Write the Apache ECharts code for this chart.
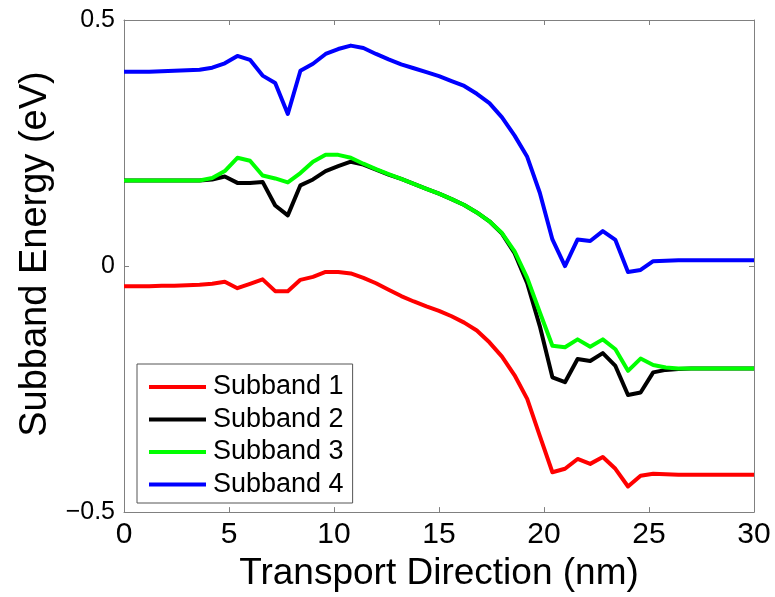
<!DOCTYPE html>
<html>
<head>
<meta charset="utf-8">
<script src="https://cdn.jsdelivr.net/npm/echarts@6/dist/echarts.min.js"></script>
<style>
  html, body { margin: 0; padding: 0; background: #fff; }
  #chart { width: 775px; height: 597px; }
</style>
</head>
<body>
<div id="chart"></div>
<script>
// transport direction positions (nm)
var xPos = [0, 0.6, 1.2, 1.8, 2.4, 3.0, 3.6, 4.2, 4.8, 5.4, 6.0, 6.6, 7.2, 7.8, 8.4, 9.0, 9.6,
  10.2, 10.8, 11.4, 12.0, 12.6, 13.2, 13.8, 14.4, 15.0, 15.6, 16.2, 16.8, 17.4, 18.0, 18.6,
  19.2, 19.8, 20.4, 21.0, 21.6, 22.2, 22.8, 23.4, 24.0, 24.6, 25.2, 25.8, 26.4, 27.0, 27.6,
  28.2, 28.8, 29.4, 30.0]

var subband1 = [-0.041, -0.041, -0.041, -0.040, -0.040, -0.039, -0.038, -0.036, -0.032, -0.045,
  -0.036, -0.027, -0.051, -0.051, -0.028, -0.022, -0.012, -0.012, -0.015, -0.024, -0.035,
  -0.048, -0.061, -0.072, -0.082, -0.091, -0.102, -0.115, -0.131, -0.155, -0.184, -0.222,
  -0.270, -0.345, -0.419, -0.412, -0.392, -0.402, -0.388, -0.412, -0.448, -0.426, -0.422,
  -0.423, -0.424, -0.424, -0.424, -0.424, -0.424, -0.424, -0.424]

var subband2 = [0.174, 0.174, 0.174, 0.174, 0.174, 0.174, 0.174, 0.176, 0.182, 0.169, 0.169,
  0.171, 0.123, 0.103, 0.164, 0.176, 0.193, 0.203, 0.212, 0.206, 0.196, 0.186, 0.177, 0.167,
  0.157, 0.147, 0.136, 0.124, 0.109, 0.091, 0.066, 0.026, -0.035, -0.122, -0.226, -0.236,
  -0.189, -0.193, -0.177, -0.203, -0.262, -0.257, -0.216, -0.211, -0.209, -0.208, -0.208,
  -0.208, -0.208, -0.208, -0.208]

var subband3 = [0.174, 0.174, 0.174, 0.174, 0.174, 0.174, 0.174, 0.179, 0.193, 0.220, 0.214,
  0.184, 0.178, 0.170, 0.189, 0.212, 0.226, 0.226, 0.220, 0.208, 0.197, 0.187, 0.177, 0.167,
  0.157, 0.147, 0.136, 0.124, 0.109, 0.091, 0.067, 0.030, -0.024, -0.094, -0.162, -0.165,
  -0.149, -0.164, -0.149, -0.169, -0.213, -0.188, -0.201, -0.206, -0.208, -0.208, -0.208,
  -0.208, -0.208, -0.208, -0.208]

var subband4 = [0.395, 0.395, 0.395, 0.396, 0.397, 0.398, 0.399, 0.403, 0.412, 0.427, 0.419,
  0.387, 0.372, 0.309, 0.397, 0.411, 0.431, 0.441, 0.448, 0.443, 0.431, 0.420, 0.410, 0.402,
  0.394, 0.386, 0.376, 0.366, 0.350, 0.331, 0.302, 0.265, 0.222, 0.149, 0.054, 0.000, 0.054,
  0.051, 0.071, 0.053, -0.012, -0.008, 0.010, 0.011, 0.012, 0.012, 0.012, 0.012, 0.012,
  0.012, 0.012]

var seriesNames = ['Subband 1', 'Subband 2', 'Subband 3', 'Subband 4']
var seriesColors = ['#ff0000', '#000000', '#00ff00', '#0000ff']
var seriesValues = [subband1, subband2, subband3, subband4]

var font = 'Liberation Sans, Arial, Helvetica, sans-serif'
var axisGrey = '#808080'

function pairs(ys) {
  return xPos.map(function (x, i) { return [x, ys[i]] })
}

var chart = echarts.init(document.getElementById('chart'))

chart.setOption({
  backgroundColor: '#fff',
  animation: false,
  grid: {
    left: 124,
    right: 21,
    top: 20,
    bottom: 84
  },
  legend: {
    orient: 'vertical',
    left: 137,
    top: 364,
    data: seriesNames,
    icon: 'rect',
    itemWidth: 57,
    itemHeight: 4,
    itemGap: 5.5,
    padding: [9.5, 9, 5, 12],
    backgroundColor: '#fff',
    borderColor: '#555',
    borderWidth: 1,
    borderRadius: 0,
    textStyle: {
      color: '#000',
      fontFamily: font,
      fontSize: 27,
      lineHeight: 27,
      padding: [0, 0, 0, 2]
    }
  },
  xAxis: [{
    type: 'value',
    min: 0,
    max: 30,
    interval: 5,
    name: 'Transport Direction (nm)',
    nameLocation: 'middle',
    nameGap: 38,
    nameTextStyle: {
      color: '#000',
      fontFamily: font,
      fontSize: 37
    },
    axisLine: { onZero: false, lineStyle: { color: axisGrey, width: 1 } },
    axisTick: { inside: true, length: 5, lineStyle: { color: axisGrey } },
    axisLabel: {
      color: '#000',
      fontFamily: font,
      fontSize: 30,
      margin: 8
    },
    splitLine: { show: false }
  }, {
    type: 'value',
    position: 'top',
    min: 0,
    max: 30,
    interval: 5,
    axisLine: { onZero: false, lineStyle: { color: axisGrey, width: 1 } },
    axisTick: { inside: true, length: 5, lineStyle: { color: axisGrey } },
    axisLabel: { show: false },
    splitLine: { show: false }
  }],
  yAxis: [{
    type: 'value',
    min: -0.5,
    max: 0.5,
    interval: 0.5,
    name: 'Subband Energy (eV)',
    nameLocation: 'middle',
    nameGap: 68,
    nameTextStyle: {
      color: '#000',
      fontFamily: font,
      fontSize: 38,
      padding: [0, 0, 0, 24]
    },
    axisLine: { show: true, onZero: false, lineStyle: { color: axisGrey, width: 1 } },
    axisTick: { show: true, inside: true, length: 5, lineStyle: { color: axisGrey } },
    axisLabel: {
      color: '#000',
      fontFamily: font,
      fontSize: 25,
      margin: 9,
      formatter: function (v) {
        return v < 0 ? '\u2212' + String(-v) : String(v)
      }
    },
    splitLine: { show: false }
  }, {
    type: 'value',
    position: 'right',
    min: -0.5,
    max: 0.5,
    interval: 0.5,
    axisLine: { show: true, onZero: false, lineStyle: { color: axisGrey, width: 1 } },
    axisTick: { show: true, inside: true, length: 5, lineStyle: { color: axisGrey } },
    axisLabel: { show: false },
    splitLine: { show: false }
  }],
  series: seriesNames.map(function (name, i) {
    return {
      name: name,
      type: 'line',
      xAxisIndex: 0,
      yAxisIndex: 0,
      data: pairs(seriesValues[i]),
      symbol: 'none',
      smooth: false,
      color: seriesColors[i],
      lineStyle: { color: seriesColors[i], width: 4, join: 'round' },
      z: 2 + i
    }
  })
})
</script>
</body>
</html>
